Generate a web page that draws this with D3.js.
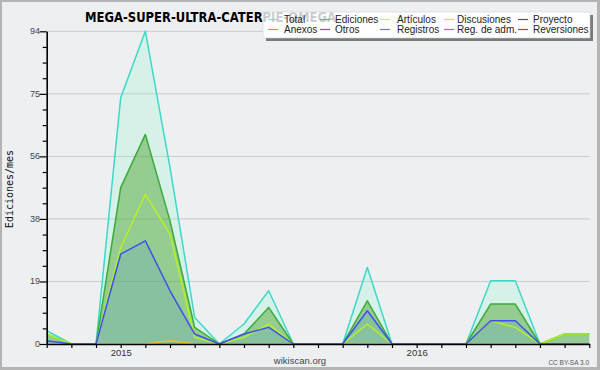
<!DOCTYPE html>
<html>
<head>
<meta charset="utf-8">
<script src="https://cdn.jsdelivr.net/npm/d3@7"></script>
<style>
  body { margin: 0; background: #fff; }
  text { font-family: "Liberation Sans", "DejaVu Sans", sans-serif; }
</style>
</head>
<body>
<div id="wrapper"></div>
<script>
// months Oct 2014 -> Aug 2016
const months = ["2014-10","2014-11","2014-12","2015-01","2015-02","2015-03","2015-04","2015-05","2015-06","2015-07","2015-08","2015-09",
  "2015-10","2015-11","2015-12","2016-01","2016-02","2016-03","2016-04","2016-05","2016-06","2016-07","2016-08"];
const total       = [4,0,0,74,94,53,8,0,6,16,0,0,0,23,0,0,0,0,19,19,0,3,3];
const ediciones   = [3,0,0,47,63,37,5,0,3,11,0,0,0,13,0,0,0,0,12,12,0,3,3];
const articulos   = [3,0,0,29,45,33,2,0,2,6,0,0,0,6,0,0,0,0,7,5,0,3,3];
const discusiones = [0,0,0,0,0,1,0,0,0,0,0,0,0,0,0,0,0,0,0,0,0,0,0];
const registros   = [1,0,0,27,31,16,3,0,3,5,0,0,0,10,0,0,0,0,7,7,0,0,0];
const yMax = 94;

const legendNames = [["Total","Ediciones","Artículos","Discusiones","Proyecto"],
                     ["Anexos","Otros","Registros","Reg. de adm.","Reversiones"]];
const legendColors = [["#7fe0d4","#5fbf74","#c4f064","#ffd04a","#555555"],
                      ["#f08050","#9040e0","#7272f0","#d050e0","#e03030"]];

const W = 600, H = 370;
var svg = d3.select("#wrapper").append("svg").attr("width", W).attr("height", H);

svg.append("rect").attr("width", W).attr("height", H).attr("fill", "#b4b4b4");
svg.append("rect").attr("x", 2).attr("y", 2).attr("width", W - 5).attr("height", H - 5).attr("fill", "#eeeff1");

var x = d3.scalePoint().domain(months).range([46.7, 589.3]);
var y = d3.scaleLinear().domain([0, yMax]).range([344, 31.3]);

// grid + y axis
var yTicks = d3.range(0, 21).map(k => yMax * k / 20);
var majors = yTicks.filter((d, i) => i % 4 === 0);
svg.append("g").selectAll("line").data(majors.slice(1)).enter().append("line")
  .attr("x1", 46.7).attr("x2", 590).attr("y1", d => y(d)).attr("y2", d => y(d))
  .attr("stroke", "#cacaca").attr("stroke-width", 1);

var series = [
  {v: total, line: "#3cd8c8", fill: "rgba(120,255,200,0.2)"},
  {v: ediciones, line: "#3aaa3a", fill: "rgba(68,157,40,0.45)"},
  {v: registros, line: null, fill: "rgba(60,134,241,0.15)"},
  {v: articulos, line: "#b6f21e", fill: null},
  {v: discusiones, line: "#f0c020", fill: null},
  {v: registros, line: "#3f4ff0", fill: null}
];
var area = d3.area().x((d, i) => x(months[i])).y0(y(0)).y1(d => y(d));
var line = d3.line().x((d, i) => x(months[i])).y(d => y(d));
var plot = svg.append("g");
series.forEach(function(s) {
  if (s.fill) plot.append("path").attr("d", area(s.v)).attr("fill", s.fill);
  if (s.line) plot.append("path").attr("d", line(s.v)).attr("fill", "none")
    .attr("stroke", s.line).attr("stroke-width", 1.5).attr("stroke-linejoin", "round");
});

var yAxisCall = d3.axisLeft(y).tickValues(yTicks)
  .tickSize(0).tickFormat(d => "");
var yg = svg.append("g").attr("transform", "translate(46.7,0)").call(yAxisCall);
yg.select(".domain").attr("stroke", "#000").attr("stroke-width", 1.6);
yg.selectAll(".tick line").attr("x1", (d, i) => i % 4 === 0 ? -7 : -4).attr("stroke", "#000").attr("stroke-width", 1.2);
yg.selectAll(".tick text").remove();
svg.append("g").selectAll("text").data(majors).enter().append("text")
  .attr("x", 40).attr("y", d => y(d) + 3).attr("text-anchor", "end")
  .style("font-size", "9px").attr("fill", "#444").text(d => Math.round(d));

var xAxisCall = d3.axisBottom(x).tickSize(4).tickSizeOuter(0)
  .tickFormat(m => m.endsWith("-01") ? m.slice(0, 4) : "");
var xg = svg.append("g").attr("transform", "translate(0,344)").call(xAxisCall);
xg.select(".domain").attr("stroke", "#000").attr("stroke-width", 1.6);
xg.selectAll(".tick line").attr("stroke", "#000").attr("stroke-width", 1.2);
xg.selectAll(".tick text").attr("y", 5).style("font-size", "9.5px").attr("fill", "#333")
  .style("font-family", "Liberation Sans, sans-serif");

// y label
svg.append("text").attr("transform", "translate(13,189) rotate(-90)").attr("text-anchor", "middle")
  .style("font-family", "DejaVu Sans Mono, monospace").style("font-size", "10px").attr("fill", "#111")
  .text("Ediciones/mes");

svg.append("text").attr("x", 300).attr("y", 364).attr("text-anchor", "middle")
  .style("font-size", "9.5px").attr("fill", "#444").text("wikiscan.org");
svg.append("text").attr("x", 589).attr("y", 365).attr("text-anchor", "end")
  .style("font-size", "6.5px").attr("fill", "#555").text("CC BY-SA 3.0");

// legend box (title shows faintly through it, as in the original)
svg.append("rect").attr("x", 266).attr("y", 15).attr("width", 327).attr("height", 26).attr("fill", "#7a7a7a");
svg.append("rect").attr("x", 263).attr("y", 12).attr("width", 327).attr("height", 26).attr("fill", "#fff");
svg.append("text").attr("x", 85).attr("y", 22).attr("textLength", 251).attr("lengthAdjust", "spacingAndGlyphs")
  .style("font-family", "DejaVu Sans, sans-serif").style("font-weight", "bold").style("font-size", "14px")
  .attr("fill", "#000").text("MEGA-SUPER-ULTRA-CATERPIE-OMEGA");
svg.append("rect").attr("x", 263).attr("y", 12).attr("width", 327).attr("height", 26)
  .attr("fill", "rgba(255,255,255,0.8)").attr("stroke", "#d0d0d0").attr("stroke-width", 0.6);

const lineX = [268, 320, 380, 444, 518];
const textX = [284, 335, 397, 457, 533];
const rowY = [19.5, 29.5];
legendNames.forEach(function(row, r) {
  row.forEach(function(name, c) {
    svg.append("line").attr("x1", lineX[c]).attr("x2", lineX[c] + 10)
      .attr("y1", rowY[r]).attr("y2", rowY[r]).attr("stroke", legendColors[r][c]).attr("stroke-width", 1.2);
    svg.append("text").attr("x", textX[c]).attr("y", rowY[r] + 3.5)
      .style("font-size", "10px").attr("fill", "#222").text(name);
  });
});
</script>
</body>
</html>
